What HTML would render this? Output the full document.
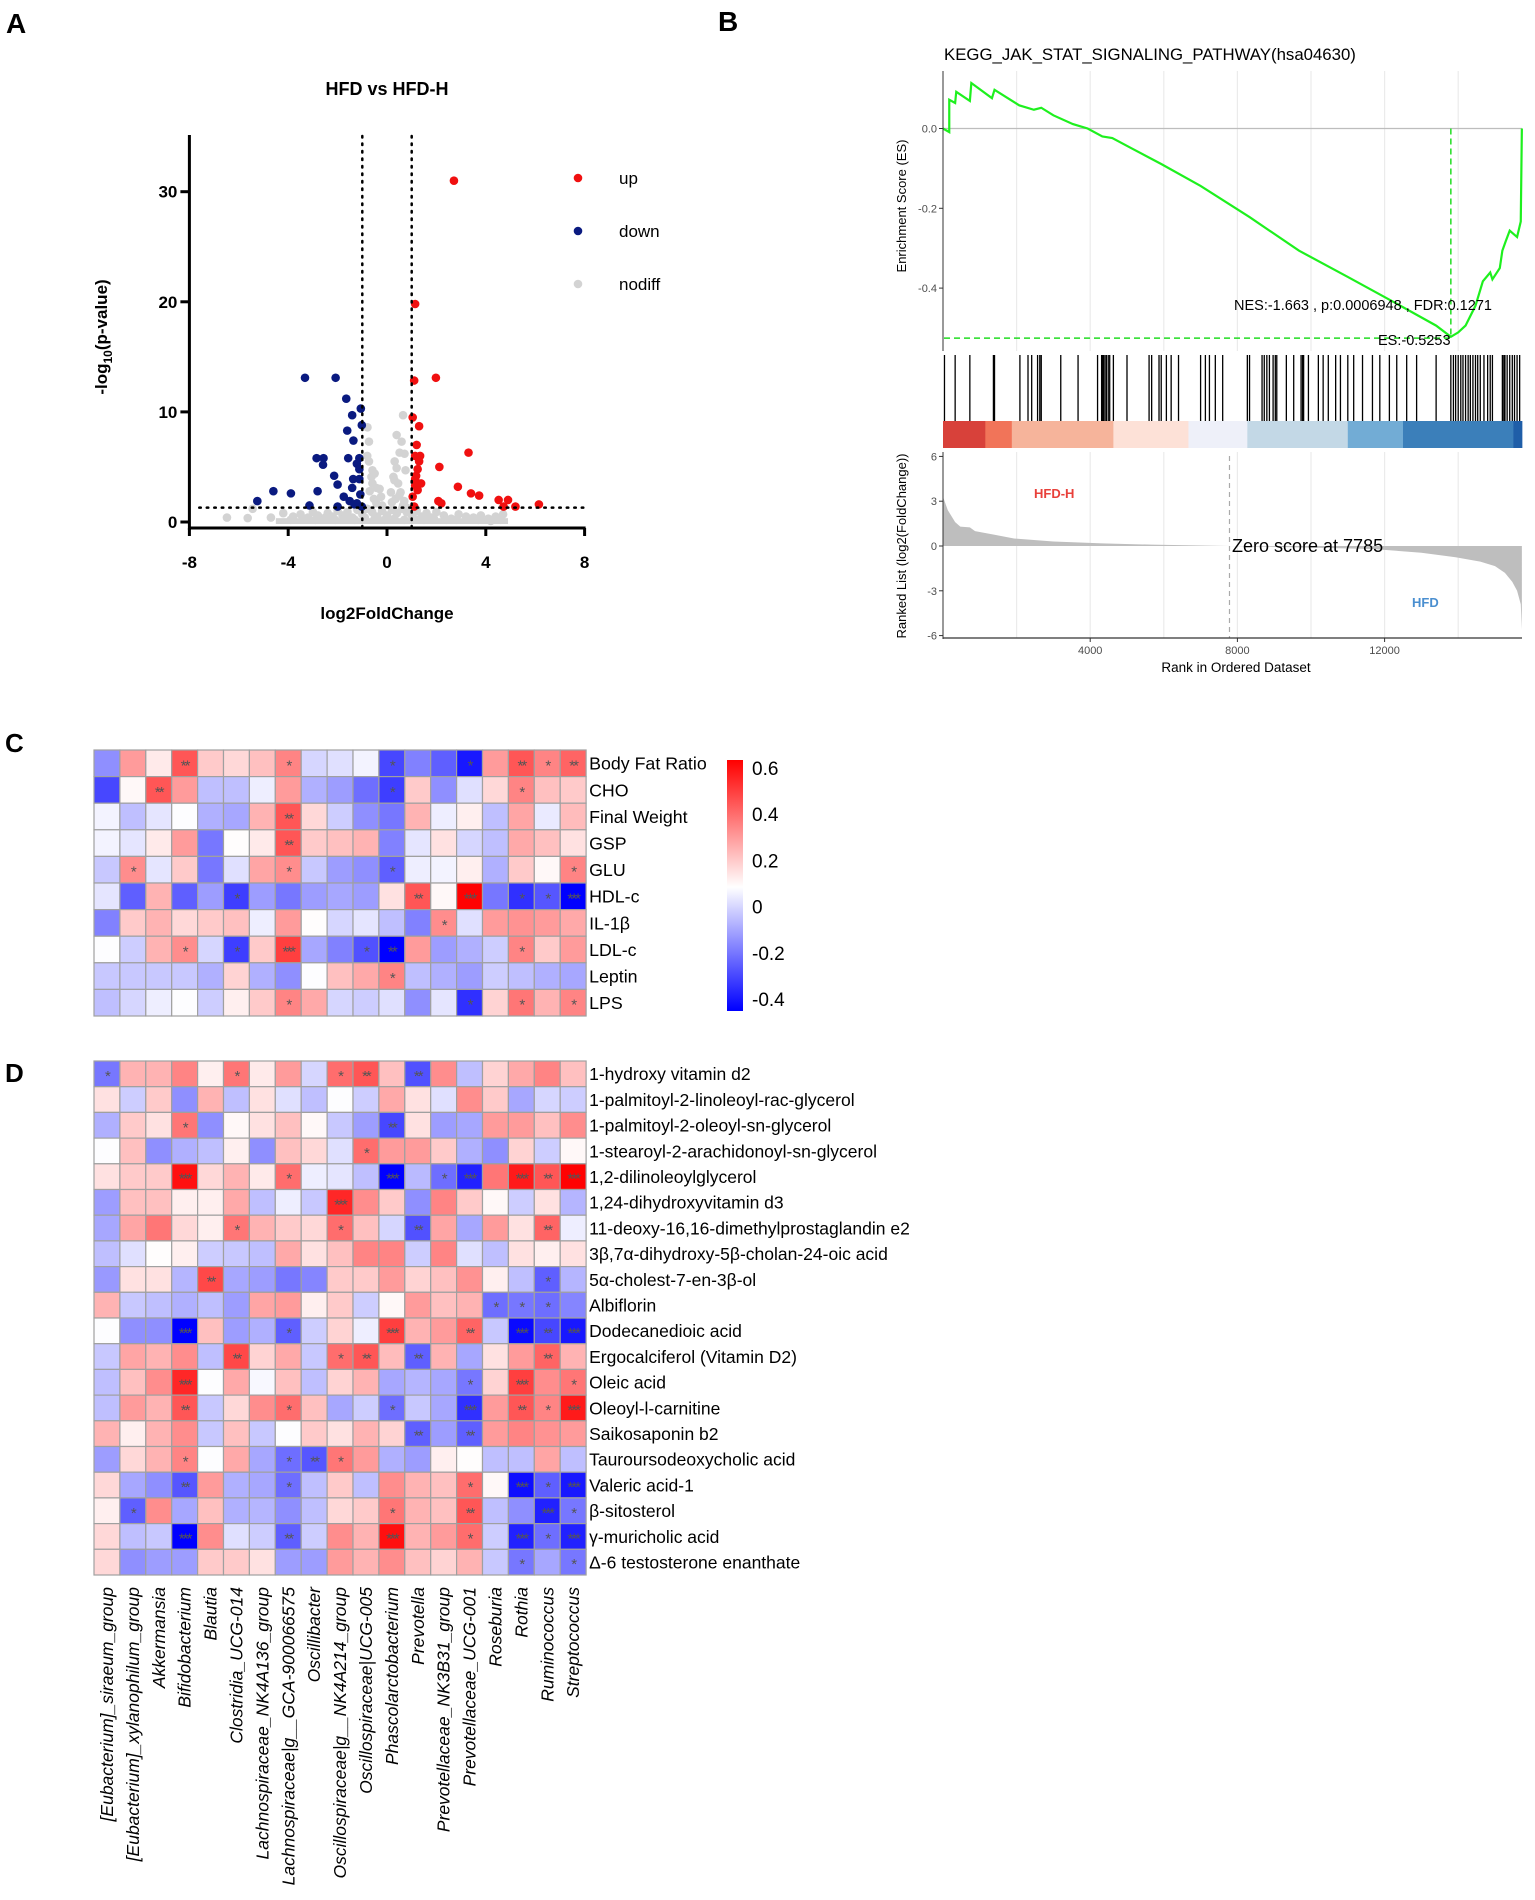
<!DOCTYPE html>
<html><head><meta charset="utf-8"><style>
html,body{margin:0;padding:0;background:#fff;}
svg{display:block;font-family:"Liberation Sans",Arial,sans-serif;}
</style></head><body>
<svg id="fig" width="1535" height="1900" viewBox="0 0 1535 1900" xmlns="http://www.w3.org/2000/svg">
<g id="pA"></g>
<g id="pB"></g>
<g id="pC"></g>
<g id="pD"></g>
</svg>
<script>
// ---------- Panel A data ----------
const upX=[2.71,1.14,1.1,1.98,1.04,1.3,1.2,3.3,1.14,1.34,1.3,2.12,1.24,1.18,1.38,1.14,1.24,2.87,3.4,3.73,4.52,4.9,6.15,5.2,4.72,2.08,2.2,1.04,1.1,1.14];
const upY=[31.0,19.8,12.85,13.1,9.5,8.7,7.0,6.3,6.0,6.0,5.5,5.0,4.8,4.2,3.5,3.3,2.9,3.2,2.6,2.4,2.0,2.0,1.6,1.4,1.4,1.9,1.7,2.3,1.4,3.9];
const downX=[-3.32,-2.08,-1.65,-1.06,-1.41,-1.02,-1.61,-1.36,-2.85,-2.57,-2.59,-1.57,-1.12,-1.22,-1.12,-2.14,-2.0,-1.37,-1.12,-1.41,-4.6,-3.89,-2.81,-5.25,-3.14,-2.0,-1.75,-1.51,-1.22,-1.08,-1.02,-1.32];
const downY=[13.1,13.1,11.2,10.3,9.7,8.8,8.3,7.4,5.8,5.8,5.2,5.8,5.8,5.3,4.8,4.2,3.4,3.9,3.9,3.1,2.8,2.6,2.8,1.9,1.5,1.4,2.3,1.9,1.7,2.5,1.4,1.6];
const ndX=[0.65,-0.79,-0.73,0.39,0.59,0.51,0.71,0.31,0.39,-0.59,-0.63,-0.59,-0.43,0.26,0.45,0.16,0.55,-0.24,0.35,-0.43,0.65,-0.73,0.75,-0.53,-6.48,-5.64,-4.7,-5.44,
 -4.2,-3.8,-3.5,-3.2,-3.0,-2.8,-2.6,-2.4,-2.2,-2.0,-1.8,-1.6,-1.4,-1.2,-1.0,-0.8,-0.6,-0.4,-0.2,0,0.2,0.4,0.6,0.8,1.0,1.2,1.4,1.6,1.8,2.0,2.3,2.6,2.9,3.2,3.5,3.8,4.1,4.4,4.7,
 -3.9,-3.4,-2.9,-2.5,-2.1,-1.7,-1.3,-0.9,-0.5,-0.1,0.3,0.7,1.1,1.5,1.9,2.4,2.8,3.3,3.7,4.2,4.6,-0.7,-0.5,-0.3,0.3,0.5,0.7,-0.8,0.8,0.2,-0.2];
const ndY=[9.7,8.6,7.3,7.9,7.3,6.3,6.2,5.5,4.9,4.7,4.1,3.5,3.1,4.1,3.5,2.7,2.7,2.3,2.1,1.7,1.5,5.5,4.7,2.1,0.4,0.36,0.4,1.2,
 0.8,0.5,0.7,0.4,0.9,0.6,0.3,0.8,0.5,1.0,0.6,0.9,0.4,1.1,0.7,1.2,0.9,0.5,1.0,0.6,1.1,0.8,1.2,0.9,0.6,1.0,0.5,0.8,0.4,0.9,0.6,0.3,0.7,0.5,0.4,0.6,0.3,0.5,0.7,
 0.2,0.3,0.2,0.4,0.2,0.3,0.2,0.4,0.3,0.2,0.3,0.2,0.3,0.2,0.3,0.2,0.2,0.3,0.2,0.1,0.2,2.8,4.4,3.0,3.8,2.4,1.9,6.0,1.3,1.8,1.5];
const xTicksA=[-8,-4,0,4,8];
const yTicksA=[0,10,20,30];

// ---------- Panel B data ----------
const esRank=[0,170,170,330,360,730,770,1330,1400,2070,2470,2670,3000,3530,3930,4330,4600,5130,5930,7000,8330,9670,11000,12330,13400,13800,14000,14200,14470,14670,14870,14930,15130,15200,15290,15400,15600,15700,15730];
const esVal=[0,-0.009,0.072,0.064,0.092,0.069,0.114,0.076,0.097,0.058,0.047,0.052,0.033,0.011,0,-0.02,-0.024,-0.05,-0.089,-0.144,-0.222,-0.306,-0.372,-0.439,-0.494,-0.522,-0.511,-0.494,-0.444,-0.383,-0.361,-0.378,-0.35,-0.306,-0.283,-0.256,-0.272,-0.233,0];
const hitRanks=[40,330,730,1370,1400,2090,2310,2410,2570,2630,2670,3200,3670,4200,4310,4330,4360,4400,4440,4490,4530,4630,5000,5600,5670,5870,5930,6070,6200,6400,7000,7130,7240,7400,7600,8270,8330,8670,8730,8800,8870,8970,9030,9070,9330,9530,9730,9770,9800,9930,10200,10330,10470,10670,10800,11000,11160,11400,11670,11870,12130,12330,12600,12870,13400,13800,13870,13930,14000,14070,14130,14200,14270,14330,14400,14470,14530,14600,14700,14800,14870,14930,15200,15240,15270,15330,15400,15470,15530,15600,15670];
const segStart=[0,1150,1870,4630,6670,8270,11000,12500,15500];
const segEnd=[1150,1870,4630,6670,8270,11000,12500,15500,15730];
const segColor=["#d8413a","#f17459","#f6b49b","#fde1d7","#eef0f9","#c3d8e6","#72acd5","#3b7fba","#1f5ea8"];
const rlRank=[0,130,330,470,730,870,1400,1930,3000,4330,5670,7800,9670,11670,13000,13930,14600,15000,15270,15470,15600,15700,15730];
const rlVal=[3.3,2.4,1.6,1.3,1.25,1.0,0.75,0.5,0.3,0.18,0.09,0,-0.09,-0.2,-0.45,-0.75,-1.05,-1.35,-1.8,-2.4,-3.0,-3.9,-5.6];
const esTicks=[0.0,-0.2,-0.4];
const rlTicks=[6,3,0,-3,-6];
const rankTicks=[4000,8000,12000];
const gridRanks=[2000,4000,6000,8000,10000,12000,14000];

// ---------- Heatmap data ----------
const genera=["[Eubacterium]_siraeum_group","[Eubacterium]_xylanophilum_group","Akkermansia","Bifidobacterium","Blautia","Clostridia_UCG-014","Lachnospiraceae_NK4A136_group","Lachnospiraceae|g__GCA-900066575","Oscillibacter","Oscillospiraceae|g__NK4A214_group","Oscillospiraceae|UCG-005","Phascolarctobacterium","Prevotella","Prevotellaceae_NK3B31_group","Prevotellaceae_UCG-001","Roseburia","Rothia","Ruminococcus","Streptococcus"];
const cRows=["Body Fat Ratio","CHO","Final Weight","GSP","GLU","HDL-c","IL-1β","LDL-c","Leptin","LPS"];
const cVals=[
[-0.15,0.3,0.13,0.45,0.2,0.17,0.22,0.35,0,0.02,0.06,-0.3,-0.18,-0.25,-0.4,0.3,0.45,0.35,0.42],
[-0.3,0.1,0.45,0.3,-0.05,-0.05,0.05,0.3,-0.08,-0.12,-0.22,-0.32,0.2,-0.15,0.02,0.17,0.35,0.22,0.2],
[0.06,-0.05,0.03,0.08,-0.08,-0.1,0.25,0.45,0.17,-0.02,-0.15,-0.2,0.25,0.05,0.12,-0.05,0.28,0.04,0.23],
[0.06,0.03,0.13,0.3,-0.2,0.09,0.13,0.45,0.2,0.22,0.25,-0.18,0.03,0.15,0,-0.05,0.27,0.22,0.15],
[-0.03,0.33,0.03,0.2,-0.2,0.02,0.28,0.33,-0.03,-0.12,-0.15,-0.25,0.05,0.06,0.12,-0.08,0.2,0.1,0.35],
[0.03,-0.25,0.25,-0.25,-0.12,-0.32,-0.12,-0.2,-0.12,-0.1,-0.12,0.15,0.45,0.1,0.63,-0.2,-0.35,-0.27,-0.45],
[-0.18,0.2,0.25,0.17,0.2,0.22,0.05,0.3,0.09,0,0.03,-0.05,-0.18,0.33,0.02,0.3,0.32,0.3,0.27],
[0.08,-0.02,0.25,0.33,0,-0.32,0.2,0.5,-0.1,-0.18,-0.28,-0.45,0.3,-0.12,-0.08,-0.02,0.35,0.2,0.3],
[-0.03,-0.03,-0.03,-0.03,-0.08,0.18,-0.08,-0.15,0.08,0.22,0.27,0.35,-0.05,-0.08,-0.12,-0.02,-0.05,-0.08,-0.1],
[-0.05,0,0.05,0.08,-0.02,0.12,0.2,0.35,0.27,0,-0.02,0.02,-0.15,0.03,-0.35,0.18,0.38,0.25,0.35]];
const cStars=[
[0,0,0,2,0,0,0,1,0,0,0,1,0,0,1,0,2,1,2],
[0,0,2,0,0,0,0,0,0,0,0,1,0,0,0,0,1,0,0],
[0,0,0,0,0,0,0,2,0,0,0,0,0,0,0,0,0,0,0],
[0,0,0,0,0,0,0,2,0,0,0,0,0,0,0,0,0,0,0],
[0,1,0,0,0,0,0,1,0,0,0,1,0,0,0,0,0,0,1],
[0,0,0,0,0,1,0,0,0,0,0,0,2,0,3,0,1,1,3],
[0,0,0,0,0,0,0,0,0,0,0,0,0,1,0,0,0,0,0],
[0,0,0,1,0,1,0,3,0,0,1,2,0,0,0,0,1,0,0],
[0,0,0,0,0,0,0,0,0,0,0,1,0,0,0,0,0,0,0],
[0,0,0,0,0,0,0,1,0,0,0,0,0,0,1,0,1,0,1]];
const dRows=["1-hydroxy vitamin d2","1-palmitoyl-2-linoleoyl-rac-glycerol","1-palmitoyl-2-oleoyl-sn-glycerol","1-stearoyl-2-arachidonoyl-sn-glycerol","1,2-dilinoleoylglycerol","1,24-dihydroxyvitamin d3","11-deoxy-16,16-dimethylprostaglandin e2","3β,7α-dihydroxy-5β-cholan-24-oic acid","5α-cholest-7-en-3β-ol","Albiflorin","Dodecanedioic acid","Ergocalciferol (Vitamin D2)","Oleic acid","Oleoyl-l-carnitine","Saikosaponin b2","Tauroursodeoxycholic acid","Valeric acid-1","β-sitosterol","γ-muricholic acid","Δ-6 testosterone enanthate"];
const dVals=[
[-0.2,0.25,0.25,0.35,0.12,0.38,0.13,0.3,0,0.4,0.45,0.22,-0.28,0.33,-0.05,0.18,0.27,0.35,0.22],
[0.15,-0.02,0.2,-0.15,0.25,-0.05,0.15,0.02,-0.05,0.08,-0.02,0.27,0.15,0.02,0.33,0.2,-0.1,0,-0.02],
[-0.08,0.2,0.15,0.38,-0.15,0.1,0.15,0.22,0.1,-0.03,-0.12,-0.3,0.15,-0.12,-0.1,0.3,0.3,0.22,0.33],
[0.08,0.22,-0.15,-0.08,-0.05,0.12,-0.15,0.22,0.17,0.02,0.4,0.3,0.3,0.2,-0.08,-0.15,0.18,-0.02,0.1],
[0.15,0.2,0.2,0.6,0.17,0.25,0.13,0.4,0.05,0.03,-0.05,-0.45,-0.06,-0.22,-0.38,0.38,0.58,0.45,0.63],
[-0.12,0.22,0.22,0.12,0.12,0.27,-0.05,0.05,-0.03,0.55,0.33,0.2,-0.15,0.35,0.2,0.1,-0.02,0.15,-0.07],
[-0.1,0.28,0.38,0.17,0.12,0.38,0.25,0.2,0.17,0.4,0.22,0,-0.28,0.28,-0.1,0.3,0.15,0.42,0.05],
[-0.05,0.02,0.09,0.12,-0.02,-0.03,-0.05,0.27,0.15,0.22,0.35,0.35,-0.02,0.35,0.02,-0.05,0.15,0.12,0.15],
[-0.13,0.15,0.15,-0.07,0.48,-0.1,-0.12,-0.2,-0.17,0.2,0.2,0.3,0.18,0.22,0.32,0.12,-0.05,-0.25,-0.07],
[0.25,-0.03,-0.05,-0.08,-0.05,-0.12,0.28,0.3,0.12,0.2,-0.02,0.1,0.3,0.22,0.25,-0.22,-0.2,-0.22,-0.17],
[0.08,-0.15,-0.15,-0.45,0.22,-0.12,-0.08,-0.25,-0.02,0.18,0.05,0.5,0.25,0.3,0.42,-0.03,-0.43,-0.3,-0.4],
[-0.03,0.28,0.25,0.33,-0.05,0.48,0.18,0.27,-0.03,0.4,0.45,0.23,-0.25,0.25,-0.1,0.15,0.3,0.42,0.25],
[-0.05,0.22,0.33,0.55,0.08,0.27,0.07,0.22,-0.05,0.18,0.25,-0.1,-0.07,-0.1,-0.2,0.18,0.5,0.33,0.38],
[-0.05,0.3,0.25,0.45,-0.03,0.17,0.33,0.4,0.22,-0.1,-0.02,-0.22,-0.03,-0.1,-0.35,0.3,0.45,0.35,0.58],
[0.25,0.12,0.25,0.33,-0.03,0.22,-0.03,0.08,0.2,0.15,0.25,0.18,-0.25,-0.12,-0.25,0.3,0.35,0.32,0.3],
[-0.12,0.17,0.25,0.35,0.08,0.27,-0.1,-0.22,-0.27,0.38,0.3,-0.08,-0.12,0.12,0.09,-0.05,-0.05,0.28,-0.05],
[0.17,-0.1,-0.15,-0.27,0.3,-0.08,-0.1,-0.22,-0.05,0.2,-0.05,0.33,0.25,0.22,0.4,0.1,-0.42,-0.25,-0.4],
[0.12,-0.25,0.33,-0.1,0.22,-0.08,-0.07,-0.15,-0.05,0.17,0.2,0.38,0.25,0.22,0.45,-0.05,-0.15,-0.38,-0.2],
[0.17,-0.05,-0.03,-0.45,0.33,0.02,-0.02,-0.25,-0.02,0.33,0.25,0.6,0.25,0.3,0.4,-0.02,-0.38,-0.22,-0.38],
[0.17,-0.15,-0.12,-0.12,0.2,0.2,0.15,-0.12,-0.12,0.3,0.25,0.33,0.22,0.18,0.25,-0.03,-0.2,-0.1,-0.2]];
const dStars=[
[1,0,0,0,0,1,0,0,0,1,2,0,2,0,0,0,0,0,0],
[0,0,0,0,0,0,0,0,0,0,0,0,0,0,0,0,0,0,0],
[0,0,0,1,0,0,0,0,0,0,0,2,0,0,0,0,0,0,0],
[0,0,0,0,0,0,0,0,0,0,1,0,0,0,0,0,0,0,0],
[0,0,0,3,0,0,0,1,0,0,0,3,0,1,3,0,3,2,3],
[0,0,0,0,0,0,0,0,0,3,0,0,0,0,0,0,0,0,0],
[0,0,0,0,0,1,0,0,0,1,0,0,2,0,0,0,0,2,0],
[0,0,0,0,0,0,0,0,0,0,0,0,0,0,0,0,0,0,0],
[0,0,0,0,2,0,0,0,0,0,0,0,0,0,0,0,0,1,0],
[0,0,0,0,0,0,0,0,0,0,0,0,0,0,0,1,1,1,0],
[0,0,0,3,0,0,0,1,0,0,0,3,0,0,2,0,3,2,3],
[0,0,0,0,0,2,0,0,0,1,2,0,2,0,0,0,0,2,0],
[0,0,0,3,0,0,0,0,0,0,0,0,0,0,1,0,3,0,1],
[0,0,0,2,0,0,0,1,0,0,0,1,0,0,3,0,2,1,3],
[0,0,0,0,0,0,0,0,0,0,0,0,2,0,2,0,0,0,0],
[0,0,0,1,0,0,0,1,2,1,0,0,0,0,0,0,0,0,0],
[0,0,0,2,0,0,0,1,0,0,0,0,0,0,1,0,3,1,3],
[0,1,0,0,0,0,0,0,0,0,0,1,0,0,2,0,0,3,1],
[0,0,0,3,0,0,0,2,0,0,0,3,0,0,1,0,3,1,3],
[0,0,0,0,0,0,0,0,0,0,0,0,0,0,0,0,1,0,1]];
const cbTicks=[0.6,0.4,0.2,0,-0.2,-0.4];

const NS="http://www.w3.org/2000/svg";
function mk(parent,tag,attrs,text){const e=document.createElementNS(NS,tag);for(const k in attrs)e.setAttribute(k,attrs[k]);if(text!==undefined)e.textContent=text;parent.appendChild(e);return e;}

// ================= Panel A =================
const A=document.getElementById('pA');
const ax=v=>387+v*24.7, ay=v=>522-v*11.01;
let t;
t=mk(A,'text',{x:6,y:33,'font-size':28,'font-weight':'bold'},'A');


t=mk(A,'text',{x:387,y:95,'font-size':18,'font-weight':'bold','text-anchor':'middle'},'HFD vs HFD-H');


ndX.forEach((x,i)=>{const c=mk(A,'circle',{cx:ax(x),cy:ay(ndY[i]),r:4.3,fill:'#d3d3d3'});

});
t=mk(A,'rect',{x:ax(-4.5),y:ay(0.35),width:ax(4.9)-ax(-4.5),height:ay(0)-ay(0.35)+2,fill:'#d3d3d3'});


downX.forEach((x,i)=>{const c=mk(A,'circle',{cx:ax(x),cy:ay(downY[i]),r:4.3,fill:'#0a1a80'});

});
upX.forEach((x,i)=>{const c=mk(A,'circle',{cx:ax(x),cy:ay(upY[i]),r:4.3,fill:'#f01010'});

});
[-1,1].forEach(v=>{const l=mk(A,'line',{x1:ax(v),x2:ax(v),y1:136,y2:528,stroke:'#000','stroke-width':2.5,'stroke-dasharray':'1.5,6','stroke-linecap':'round'});

});
t=mk(A,'line',{x1:ax(-7.6),x2:ax(8),y1:ay(1.3),y2:ay(1.3),stroke:'#000','stroke-width':2.5,'stroke-dasharray':'1.5,6','stroke-linecap':'round'});


t=mk(A,'line',{x1:ax(-8),x2:ax(-8),y1:135,y2:530,stroke:'#000','stroke-width':3});


t=mk(A,'line',{x1:ax(-8)-1,x2:ax(8)+1,y1:528,y2:528,stroke:'#000','stroke-width':3});


xTicksA.forEach(v=>{mk(A,'line',{x1:ax(v),x2:ax(v),y1:528,y2:536,stroke:'#000','stroke-width':3});
const tx=mk(A,'text',{x:ax(v),y:568,'font-size':17,'font-weight':'bold','text-anchor':'middle'},String(v));

});
yTicksA.forEach(v=>{mk(A,'line',{x1:ax(-8)-9,x2:ax(-8),y1:ay(v),y2:ay(v),stroke:'#000','stroke-width':3});
const tx=mk(A,'text',{x:ax(-8)-12,y:ay(v)+6,'font-size':17,'font-weight':'bold','text-anchor':'end'},String(v));

});
t=mk(A,'text',{x:387,y:619,'font-size':17,'font-weight':'bold','text-anchor':'middle'},'log2FoldChange');


t=mk(A,'text',{transform:'translate(107,337) rotate(-90)','font-size':17,'font-weight':'bold','text-anchor':'middle'});
t.innerHTML='-log<tspan font-size="12" dy="5">10</tspan><tspan dy="-5">(p-value)</tspan>';


[['up','#f01010',178],['down','#0a1a80',231],['nodiff','#d3d3d3',284]].forEach(d=>{
const c=mk(A,'circle',{cx:578,cy:d[2],r:4.3,fill:d[1]});


const tx=mk(A,'text',{x:619,y:d[2]+6,'font-size':17},d[0]);

});

// ================= Panel B =================
const B=document.getElementById('pB');
const bx=r=>943+r*0.0368, by=v=>128.5-v*399, ry=v=>546-v*14.93;
t=mk(B,'text',{x:718,y:31,'font-size':28,'font-weight':'bold'},'B');


t=mk(B,'text',{x:944,y:60,'font-size':16.8},'KEGG_JAK_STAT_SIGNALING_PATHWAY(hsa04630)');


gridRanks.forEach(r=>{mk(B,'line',{x1:bx(r),x2:bx(r),y1:71,y2:351,stroke:'#ebebeb','stroke-width':1.2});
const g=mk(B,'line',{x1:bx(r),x2:bx(r),y1:452,y2:638,stroke:'#ebebeb','stroke-width':1.2});

});
mk(B,'line',{x1:944,x2:1522,y1:by(0),y2:by(0),stroke:'#bdbdbd','stroke-width':1.2});
t=mk(B,'line',{x1:944,x2:bx(13800),y1:by(-0.5253),y2:by(-0.5253),stroke:'#22dd22','stroke-width':1.5,'stroke-dasharray':'6,4'});


t=mk(B,'line',{x1:bx(13800),x2:bx(13800),y1:by(0),y2:by(-0.5253),stroke:'#22dd22','stroke-width':1.5,'stroke-dasharray':'6,4'});


t=mk(B,'polyline',{points:esRank.map((r,i)=>bx(r)+','+by(esVal[i])).join(' '),fill:'none',stroke:'#1ef01e','stroke-width':2.2});


t=mk(B,'line',{x1:943,x2:943,y1:71,y2:351,stroke:'#333','stroke-width':1});


esTicks.forEach(v=>{mk(B,'line',{x1:939,x2:943,y1:by(v),y2:by(v),stroke:'#333'});
const tx=mk(B,'text',{x:937,y:by(v)+4,'font-size':11,fill:'#4d4d4d','text-anchor':'end'},v.toFixed(1));

});
t=mk(B,'text',{transform:'translate(906,206) rotate(-90)','font-size':13,'text-anchor':'middle'},'Enrichment Score (ES)');


t=mk(B,'text',{x:1234,y:310,'font-size':14.5},'NES:-1.663 , p:0.0006948 , FDR:0.1271');


t=mk(B,'text',{x:1378,y:345,'font-size':14.5},'ES:-0.5253');


hitRanks.forEach(r=>{const l=mk(B,'line',{x1:bx(r),x2:bx(r),y1:355,y2:421,stroke:'#000','stroke-width':1.3});

});
segStart.forEach((s,i)=>{const rr=mk(B,'rect',{x:bx(s),y:421,width:bx(segEnd[i])-bx(s)+0.5,height:27,fill:segColor[i]});

});
const area=[[bx(0),ry(0)]].concat(rlRank.map((r,i)=>[bx(r),ry(rlVal[i])])).concat([[bx(15730),ry(0)]]);
t=mk(B,'polygon',{points:area.map(p=>p.join(',')).join(' '),fill:'#bebebe'});


t=mk(B,'line',{x1:bx(7785),x2:bx(7785),y1:456,y2:638,stroke:'#aaa','stroke-width':1.2,'stroke-dasharray':'5,4'});


mk(B,'line',{x1:943,x2:943,y1:452,y2:639,stroke:'#333','stroke-width':1});
t=mk(B,'line',{x1:943,x2:1522,y1:638,y2:638,stroke:'#333','stroke-width':1.2});


rlTicks.forEach(v=>{mk(B,'line',{x1:939,x2:943,y1:ry(v),y2:ry(v),stroke:'#333'});
const tx=mk(B,'text',{x:937,y:ry(v)+4,'font-size':11,fill:'#4d4d4d','text-anchor':'end'},String(v));

});
rankTicks.forEach(r=>{mk(B,'line',{x1:bx(r),x2:bx(r),y1:638,y2:642,stroke:'#333'});
const tx=mk(B,'text',{x:bx(r),y:654,'font-size':11,fill:'#4d4d4d','text-anchor':'middle'},String(r));

});
t=mk(B,'text',{x:1236,y:672,'font-size':13.5,'text-anchor':'middle'},'Rank in Ordered Dataset');


t=mk(B,'text',{transform:'translate(906,546) rotate(-90)','font-size':13,'text-anchor':'middle'},'Ranked List (log2(FoldChange))');


t=mk(B,'text',{x:1232,y:552,'font-size':18},'Zero score at 7785');


t=mk(B,'text',{x:1034,y:498,'font-size':13,'font-weight':'bold',fill:'#e8403a'},'HFD-H');


t=mk(B,'text',{x:1412,y:607,'font-size':13,'font-weight':'bold',fill:'#4a8fd0'},'HFD');



// ================= Heatmaps =================
function col(v){const lo=-0.45,mid=0.085,hi=0.635;let r,g,b;
if(v<mid){const f=Math.max(0,Math.min(1,(mid-v)/(mid-lo)));r=255*(1-f);g=255*(1-f);b=255;}
else{const f=Math.max(0,Math.min(1,(v-mid)/(hi-mid)));r=255;g=255*(1-f);b=255*(1-f);}
return 'rgb('+Math.round(r)+','+Math.round(g)+','+Math.round(b)+')';}
const HX=94, CW=25.9;
function heat(G,vals,stars,rows,top,rh,fs,name){
vals.forEach((row,i)=>row.forEach((v,j)=>{
const r=mk(G,'rect',{x:HX+j*CW,y:top+i*rh,width:CW,height:rh,fill:col(v),stroke:'#a0a0a0','stroke-width':1.2});


const s=stars[i][j];
if(s>0){const st=mk(G,'text',{x:HX+j*CW+CW/2,y:top+i*rh+rh/2+7,'font-size':15,fill:'#555','text-anchor':'middle','letter-spacing':'-2'},'*'.repeat(s));

}
}));
rows.forEach((lab,i)=>{const tx=mk(G,'text',{x:HX+19*CW+3,y:top+i*rh+rh/2+fs*0.36,'font-size':fs},lab);

});
}
const C=document.getElementById('pC');
t=mk(C,'text',{x:5,y:752,'font-size':26,'font-weight':'bold'},'C');


heat(C,cVals,cStars,cRows,750,26.6,17.8,'heatmap-c');
const defs=mk(C,'defs',{});
const lg=mk(defs,'linearGradient',{id:'cbg',x1:0,y1:1,x2:0,y2:0});
[-0.45,-0.2,0.085,0.35,0.635].forEach(v=>mk(lg,'stop',{offset:((v+0.452)/(0.635+0.452)).toFixed(3),'stop-color':col(v)}));
t=mk(C,'rect',{x:727,y:760,width:16,height:251,fill:'url(#cbg)'});


cbTicks.forEach(v=>{const tx=mk(C,'text',{x:752,y:768+(0.6-v)*231+7,'font-size':19},String(v));

});
const D=document.getElementById('pD');
t=mk(D,'text',{x:5,y:1082,'font-size':26,'font-weight':'bold'},'D');


heat(D,dVals,dStars,dRows,1061,25.7,17.5,'heatmap-d');
genera.forEach((g,j)=>{const x=HX+j*CW+CW/2+6;
const tx=mk(D,'text',{transform:'translate('+x+',1587) rotate(-90)','font-size':17.5,'font-style':'italic','text-anchor':'end'},g);

});
</script>
</body></html>
